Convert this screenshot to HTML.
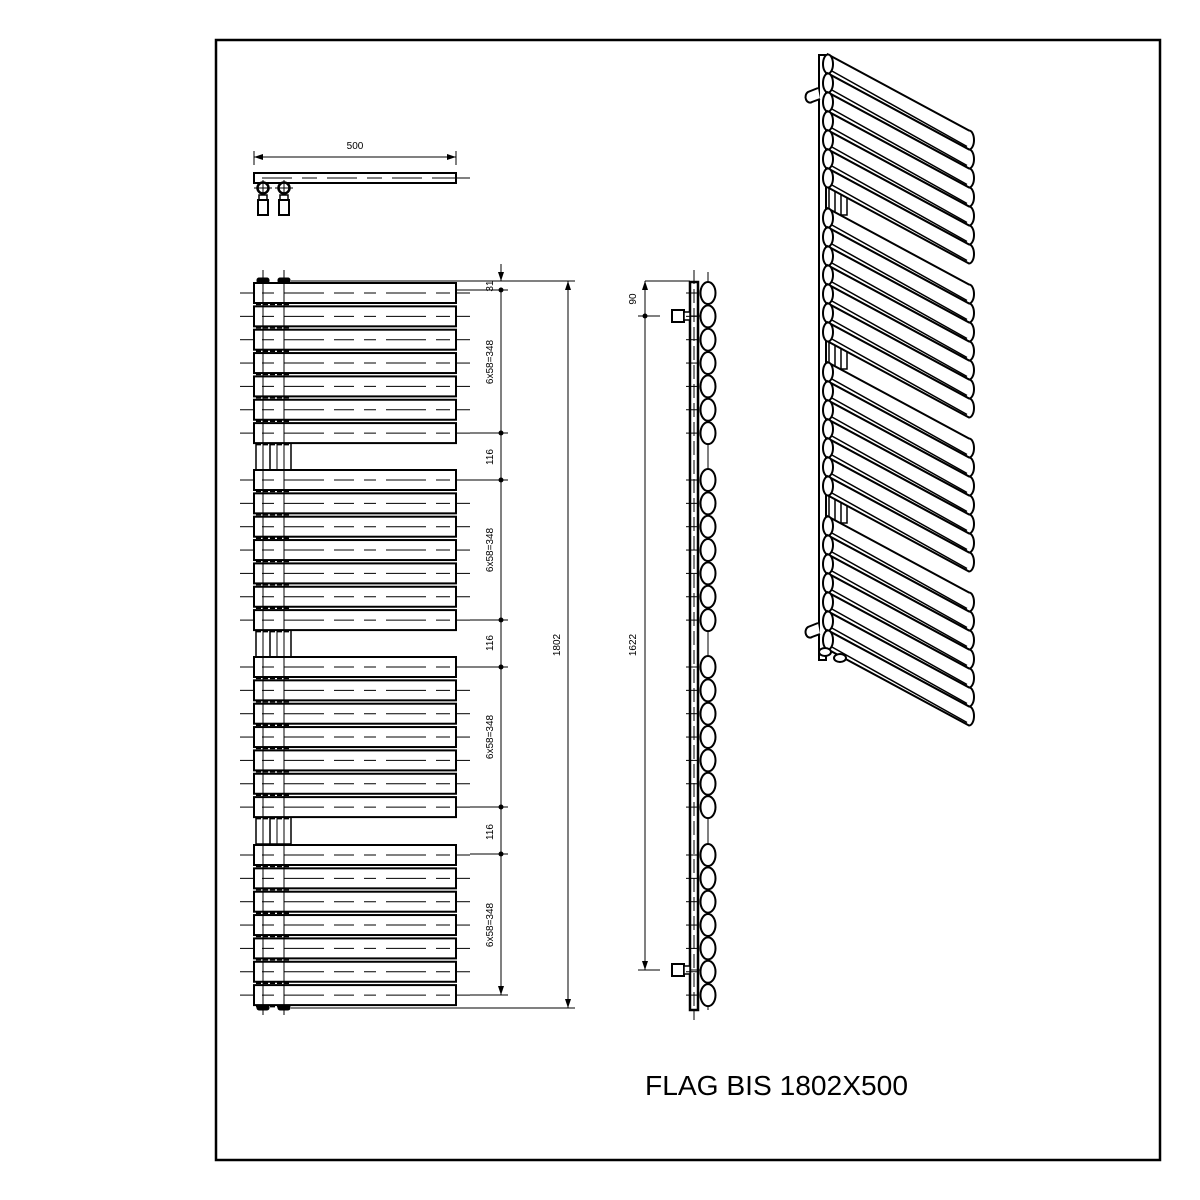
<!DOCTYPE html>
<html><head><meta charset="utf-8"><style>html,body{margin:0;padding:0;background:#fff}svg{display:block}</style></head>
<body>
<svg id="s" width="1200" height="1200" viewBox="0 0 1200 1200" xmlns="http://www.w3.org/2000/svg" font-family="Liberation Sans, sans-serif">
<rect x="216" y="40" width="944" height="1120" fill="none" stroke="#000" stroke-width="2.5"/>
<g id="g" stroke="#000" fill="none"></g>
<text x="355" y="149" font-size="10" text-anchor="middle">500</text>
<text transform="translate(493,286) rotate(-90)" font-size="10" text-anchor="middle">31</text>
<text transform="translate(493,362) rotate(-90)" font-size="10" text-anchor="middle">6x58=348</text>
<text transform="translate(493,457) rotate(-90)" font-size="10" text-anchor="middle">116</text>
<text transform="translate(493,550) rotate(-90)" font-size="10" text-anchor="middle">6x58=348</text>
<text transform="translate(493,643) rotate(-90)" font-size="10" text-anchor="middle">116</text>
<text transform="translate(493,737) rotate(-90)" font-size="10" text-anchor="middle">6x58=348</text>
<text transform="translate(493,832) rotate(-90)" font-size="10" text-anchor="middle">116</text>
<text transform="translate(493,925) rotate(-90)" font-size="10" text-anchor="middle">6x58=348</text>
<text transform="translate(560,645) rotate(-90)" font-size="10" text-anchor="middle">1802</text>
<text transform="translate(636,299) rotate(-90)" font-size="10" text-anchor="middle">90</text>
<text transform="translate(636,645) rotate(-90)" font-size="10" text-anchor="middle">1622</text>
<text x="645" y="1095" font-size="28" textLength="263" lengthAdjust="spacingAndGlyphs">FLAG BIS 1802X500</text>
</svg>
<script>
var g=document.getElementById('g'),h='';
function L(x1,y1,x2,y2,w,d){h+='<line x1="'+x1+'" y1="'+y1+'" x2="'+x2+'" y2="'+y2+'" stroke-width="'+(w||1)+'"'+(d?' stroke-dasharray="'+d+'"':'')+'/>';}
function R(x,y,w,hh,sw){h+='<rect x="'+x+'" y="'+y+'" width="'+w+'" height="'+hh+'" stroke-width="'+(sw||2)+'" fill="#fff"/>';}
function A(x,y,dir){ // filled arrowhead
 var p=dir=='d'?[x,y,x-3,y-9,x+3,y-9]:dir=='u'?[x,y,x-3,y+9,x+3,y+9]:dir=='l'?[x,y,x+9,y-3,x+9,y+3]:[x,y,x-9,y-3,x-9,y+3];
 h+='<polygon points="'+p.join(',')+'" fill="#000" stroke="none"/>';}
function D(x,y){h+='<circle cx="'+x+'" cy="'+y+'" r="2.5" fill="#000" stroke="none"/>';}
// top view
L(254,151,254,165);L(456,151,456,165);L(254,157,456,157);A(254,157,'l');A(456,157,'r');
R(254,173,202,10,2);L(262,178,440,178,1,'30 10 15 10');L(440,178,470,178);
[263,284].forEach(function(x){h+='<circle cx="'+x+'" cy="188" r="5.5" stroke-width="2.5" fill="#fff"/>';L(x-9,188,x+9,188);L(x,180,x,198);R(x-4,195,8,6,1.5);R(x-5,200,10,15,2);});
// front view
var starts=[283,470,657,845],bars=[];
starts.forEach(function(s){for(var i=0;i<7;i++)bars.push(s+i*23.35);});
// connector pieces between groups
[443,630,817].forEach(function(y){R(256,y,35,27,1.5);L(263,y,263,y+27);L(270,y,270,y+27,1.5);L(277,y,277,y+27);L(284,y,284,y+27);});
bars.forEach(function(y){R(254,y,202,20,2);L(240,y+10,254,y+10);L(262,y+10,450,y+10,1,'12 10 40 10 20 10');L(456,y+10,470,y+10);
 L(256,y+21.5,291,y+21.5,1.5,'5 2');});
[263,284].forEach(function(x){L(x,270,x,1015,1);h+='<rect x="'+(x-6)+'" y="278" width="12" height="5" rx="2" fill="#000"/>';h+='<rect x="'+(x-6)+'" y="1005" width="12" height="5" rx="2" fill="#000"/>';});
L(291,281,510,281);
// dims
L(501,264,501,281);A(501,281,'d');
L(456,290,508,290);D(501,290);
var dy=[290,433,480,620,667,807,854,995];
L(501,290,501,995);dy.slice(1,7).forEach(function(y){L(470,y,508,y);D(501,y);});A(501,995,'d');L(470,995,508,995);
L(291,1008,575,1008);L(568,281,568,1008);A(568,281,'u');A(568,1008,'d');L(456,281,575,281);
// side view
R(690,282,8,728,2.5);L(694,270,694,1020,1,'14 5');
L(645,281,690,281);L(645,281,645,970);A(645,281,'u');D(645,316);L(638,316,660,316);A(645,970,'d');L(638,970,660,970);
[316,970].forEach(function(y){R(672,y-6,12,12,2);R(684,y-4,6,8,1.5);L(690,y,705,y);});
L(708,272,708,1010,1);
bars.forEach(function(y){h+='<ellipse cx="708" cy="'+(y+10)+'" rx="7.5" ry="11" stroke-width="2" fill="#fff"/>';L(686,y+10,698,y+10);});
// iso view
R(819,55,7,605,2);
var iso=[];[64,218,372,526].forEach(function(s){for(var i=0;i<7;i++)iso.push(s+i*19);});
[197,351,505].forEach(function(y){R(829,y-10,6,26,1.5);R(841,y-4,6,22,1.5);});
iso.forEach(function(y){var x0=828,x1=969,dy=76,r=9.5;
 h+='<path d="M'+x0+','+(y-r)+' L'+x1+','+(y+dy-r)+' A5,'+r+' 0 0 1 '+x1+','+(y+dy+r)+' L'+x0+','+(y+r)+' Z" stroke-width="2" fill="#fff"/>';
 h+='<ellipse cx="'+x0+'" cy="'+y+'" rx="5" ry="'+r+'" stroke-width="2" fill="#fff"/>';
 L(x0+3,y+r-3,x1-2,y+dy+r-3,1.5);});
[95,630].forEach(function(y){h+='<path d="M818,'+(y-7)+' L808,'+(y-3)+' A4,5 0 0 0 812,'+(y+7)+' L820,'+(y+4)+'" stroke-width="2" fill="#fff"/>';});
[[825,652],[840,658]].forEach(function(p){h+='<ellipse cx="'+p[0]+'" cy="'+p[1]+'" rx="6" ry="4" stroke-width="2" fill="#fff"/>';});
g.innerHTML=h;
</script>
</body></html>
